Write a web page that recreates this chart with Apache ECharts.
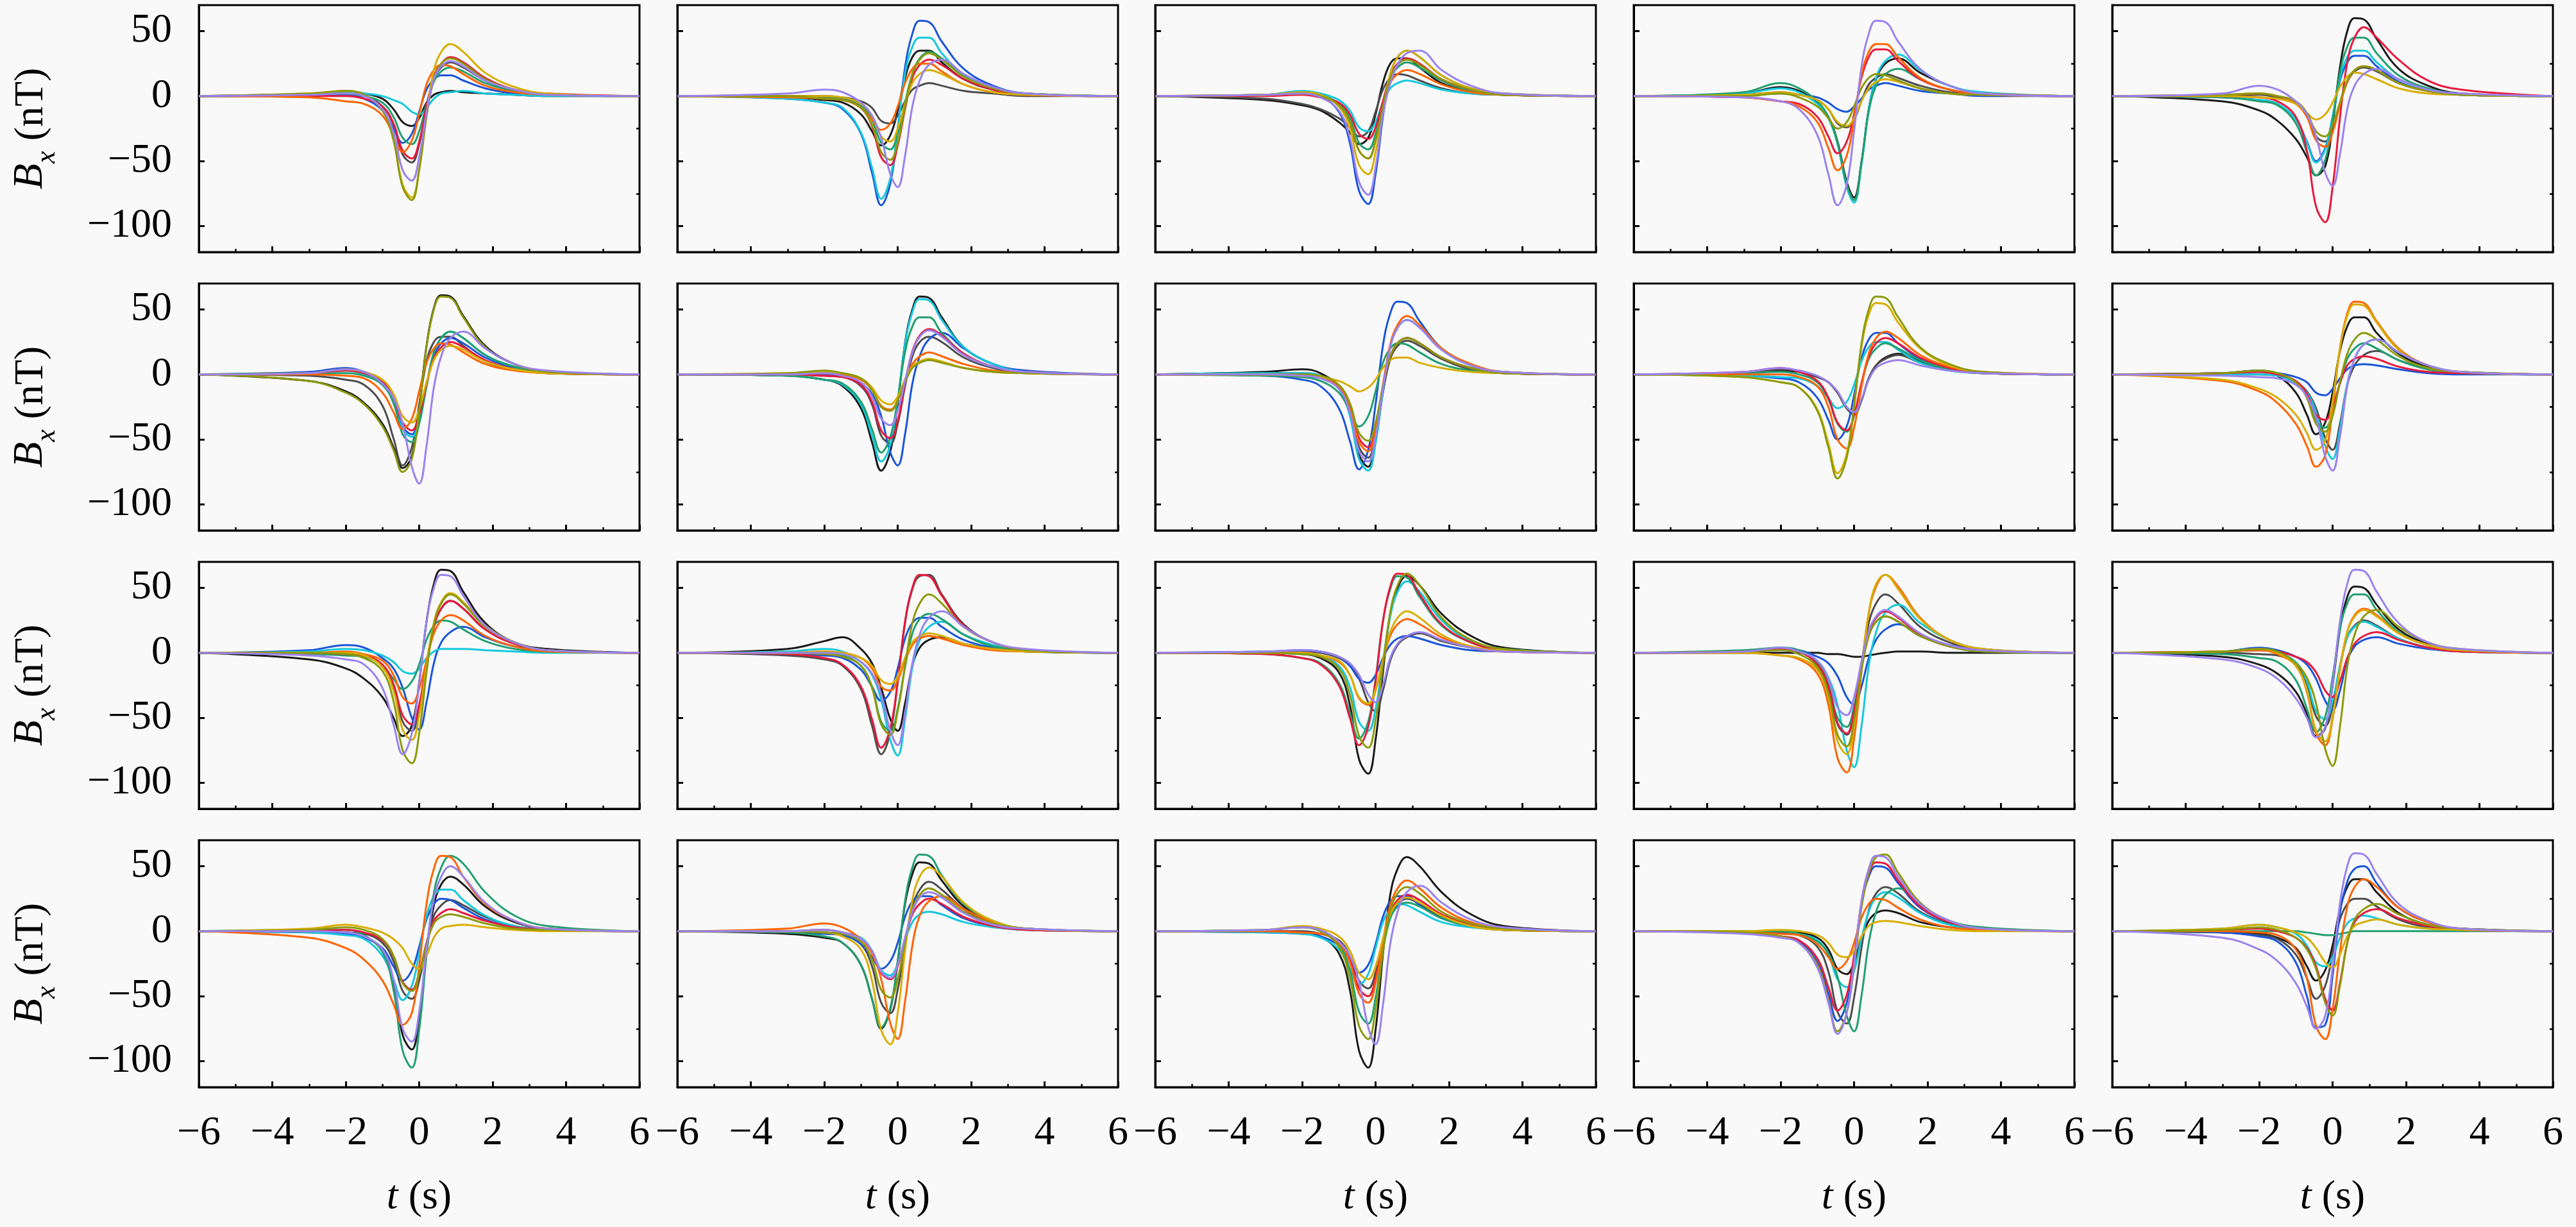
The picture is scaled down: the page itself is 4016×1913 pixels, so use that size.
<!DOCTYPE html>
<html>
<head>
<meta charset="utf-8">
<script src="https://cdn.jsdelivr.net/npm/echarts@6.0.0/dist/echarts.min.js"></script>
<style>
html,body{margin:0;padding:0;background:#f9f9f9;}
#main{width:4016px;height:1913px;}
</style>
</head>
<body>
<div id="main"></div>
<script>
// time samples (s) shared by every curve
var T = [-6,-3,-2,-1.5,-1,-0.7,-0.45,-0.2,0,0.2,0.4,0.6,0.85,1.2,1.8,2.6,3.5,6];

// curve colours, same order in every panel
var NAMES = ['black','gray','blue','cyan','green','red','orange','yellow','olive','purple'];
var COLORS = ['#1a1a1a','#4d4d4d','#1a55d9','#14c8dc','#20a070','#e8193c','#ff6400','#d9ae00','#8c9a0a','#9b82ee'];

// Bx (nT) per panel, row/col, one array per colour
var p11 = [
  [0,1,4,2,-2,-10,-20,-23,-17,-5,1,3,4,3,2,1,0,0],
  [0,1,1,0,-8,-22,-45,-51,-37,-9,13,22,26,22,12,4,1,0],
  [0,0,1,-2,-11,-25,-36,-29,-12,5,13,16,16,12,6,2,1,0],
  [0,1,3,2,0,-3,-6,-12,-14,-9,-2,2,3,4,2,1,0,0],
  [0,1,2,0,-5,-16,-32,-37,-27,-6,11,19,22,19,10,4,1,0],
  [0,0,0,-2,-8,-21,-42,-48,-35,-8,15,25,30,26,14,5,2,0],
  [0,-1,-4,-6,-15,-30,-43,-34,-14,9,20,24,23,17,8,3,1,0],
  [0,2,4,1,-11,-33,-68,-78,-56,-14,20,34,40,34,18,7,2,0],
  [0,2,4,1,-11,-34,-70,-80,-57,-16,13,25,29,25,13,5,1,0],
  [0,1,2,0,-10,-28,-57,-65,-47,-13,13,23,27,23,12,5,1,0]
];
var p12 = [
  [0,-1,-3,-5,-14,-27,-38,-30,-11,14,30,35,35,26,13,5,1,0],
  [0,0,0,-1,-4,-9,-19,-21,-15,-4,5,8,10,8,4,2,0,0],
  [0,-2,-5,-10,-29,-59,-84,-67,-26,22,48,58,57,42,21,8,2,0],
  [0,-2,-5,-9,-28,-55,-79,-63,-25,17,38,45,45,33,16,6,2,0],
  [0,0,-1,-2,-7,-18,-36,-41,-29,-5,17,29,34,29,15,6,2,0],
  [0,0,-2,-3,-9,-23,-47,-53,-38,-10,14,24,28,24,13,5,1,0],
  [0,-1,-2,-3,-9,-18,-26,-21,-8,10,21,25,25,19,9,3,1,0],
  [0,0,0,-1,-6,-15,-31,-35,-25,-6,10,17,20,17,9,3,1,0],
  [0,0,-2,-3,-9,-22,-43,-49,-36,-8,17,28,33,28,15,6,2,0],
  [0,2,5,3,-5,-15,-32,-60,-70,-46,-8,12,24,28,17,7,2,0]
];
var p13 = [
  [0,-3,-7,-11,-20,-28,-37,-32,-14,10,25,29,29,22,10,4,1,0],
  [0,-2,-6,-10,-17,-24,-31,-27,-12,5,14,17,16,12,6,2,1,0],
  [0,1,3,0,-12,-36,-73,-83,-60,-16,17,30,35,30,16,6,2,0],
  [0,1,4,2,-3,-11,-24,-27,-20,-5,6,10,12,10,5,2,1,0],
  [0,1,3,1,-6,-17,-36,-41,-29,-7,13,22,26,22,12,4,1,0],
  [0,0,1,-1,-5,-14,-29,-33,-24,-4,15,25,29,25,13,5,1,0],
  [0,1,2,0,-7,-20,-42,-48,-34,-9,10,17,20,17,9,3,1,0],
  [0,1,3,1,-8,-25,-53,-60,-43,-10,17,30,35,30,16,6,2,0],
  [0,1,2,0,-7,-20,-42,-48,-34,-8,14,24,28,24,13,5,1,0],
  [0,1,2,-1,-11,-32,-66,-76,-55,-14,10,24,33,35,20,8,2,0]
];
var p14 = [
  [0,2,7,4,-5,-16,-35,-66,-78,-51,-10,13,25,29,18,8,2,0],
  [0,1,3,1,-3,-10,-21,-24,-18,-4,9,14,17,14,8,3,1,0],
  [0,1,2,1,-1,-5,-10,-12,-8,-2,5,8,10,8,4,2,0,0],
  [0,2,6,3,-6,-17,-37,-70,-82,-53,-10,14,27,32,20,8,3,0],
  [0,3,10,6,-4,-16,-36,-68,-80,-52,-12,8,17,21,13,5,2,0],
  [0,-1,-4,-6,-16,-31,-44,-35,-14,14,30,36,36,27,13,5,1,0],
  [0,-1,-4,-8,-20,-40,-57,-46,-18,16,34,40,40,30,14,5,2,0],
  [0,1,3,1,-3,-10,-20,-23,-17,-4,6,11,13,11,6,2,1,0],
  [0,0,2,-1,-8,-17,-25,-20,-8,6,14,17,16,12,6,2,1,0],
  [0,-1,-4,-10,-30,-60,-84,-68,-27,22,48,58,57,42,21,8,2,0]
];
var p15 = [
  [0,-4,-11,-19,-33,-47,-61,-54,-22,22,50,60,59,44,21,8,2,0],
  [0,0,1,-1,-5,-15,-31,-35,-25,-6,11,19,22,19,10,4,1,0],
  [0,-1,-3,-6,-18,-35,-50,-40,-16,12,26,31,31,23,11,4,1,0],
  [0,-1,-3,-6,-18,-36,-51,-41,-16,14,30,35,35,26,13,5,1,0],
  [0,-1,-4,-7,-21,-43,-61,-49,-19,18,38,45,45,33,16,6,2,0],
  [0,0,-1,-4,-16,-42,-85,-97,-70,-17,26,45,53,45,28,12,5,0],
  [0,1,2,0,-6,-16,-34,-39,-28,-7,11,20,23,20,10,4,1,0],
  [0,0,-1,-2,-6,-13,-18,-14,-5,7,15,18,17,13,6,2,1,0],
  [0,1,2,0,-4,-13,-27,-31,-22,-5,12,20,23,20,10,4,1,0],
  [0,2,8,5,-4,-14,-31,-59,-69,-45,-10,8,17,21,13,5,2,0]
];
var p21 = [
  [0,-5,-13,-22,-38,-56,-72,-63,-26,22,51,61,60,45,22,8,2,0],
  [0,-1,-4,-8,-24,-49,-70,-56,-23,10,25,29,29,22,10,4,1,0],
  [0,2,5,2,-5,-19,-40,-46,-33,-8,14,24,28,24,13,5,1,0],
  [0,1,3,0,-7,-21,-42,-48,-35,-8,17,28,33,28,15,6,2,0],
  [0,1,1,-1,-8,-22,-46,-52,-38,-9,17,28,33,28,15,6,2,0],
  [0,1,3,1,-6,-18,-37,-43,-31,-7,12,21,25,21,11,4,1,0],
  [0,0,-1,-3,-14,-29,-42,-34,-13,9,20,24,23,17,8,3,1,0],
  [0,1,4,2,-4,-15,-32,-37,-27,-6,11,19,22,19,10,4,1,0],
  [0,-5,-14,-23,-40,-58,-75,-65,-28,21,50,60,59,44,21,8,2,0],
  [0,1,4,2,-7,-18,-38,-71,-84,-55,-10,14,28,33,20,8,3,0]
];
var p22 = [
  [0,-1,-4,-9,-26,-52,-74,-59,-23,24,50,60,59,44,21,8,2,0],
  [0,0,-1,-2,-9,-23,-47,-53,-38,-9,14,25,29,25,13,5,1,0],
  [0,0,0,-1,-7,-15,-32,-60,-70,-46,-7,14,27,32,20,8,3,0],
  [0,-1,-4,-8,-23,-47,-67,-54,-20,23,48,58,57,42,21,8,2,0],
  [0,-1,-4,-7,-21,-42,-60,-48,-19,17,37,44,44,32,16,6,2,0],
  [0,0,-1,-2,-8,-21,-43,-49,-36,-7,18,30,35,30,16,6,2,0],
  [0,0,1,0,-4,-12,-24,-27,-20,-4,8,14,17,14,8,3,1,0],
  [0,1,2,1,-3,-10,-20,-23,-17,-4,6,10,12,10,5,2,1,0],
  [0,1,3,1,-3,-12,-25,-28,-20,-6,5,9,11,9,5,2,1,0],
  [0,0,1,-1,-6,-17,-34,-39,-28,-5,17,29,34,29,15,6,2,0]
];
var p23 = [
  [0,2,4,1,-10,-30,-62,-71,-51,-14,13,24,28,24,13,5,1,0],
  [0,1,1,-1,-10,-27,-56,-64,-46,-13,12,22,26,22,12,4,1,0],
  [0,-1,-4,-9,-26,-51,-73,-58,-23,22,47,56,55,41,20,7,2,0],
  [0,1,1,-1,-11,-32,-65,-74,-53,-13,21,36,42,36,19,7,2,0],
  [0,-1,-2,-5,-14,-28,-40,-32,-13,9,20,24,23,17,8,3,1,0],
  [0,0,0,-2,-9,-24,-49,-56,-41,-10,14,24,28,24,13,5,1,0],
  [0,0,-1,-2,-10,-26,-52,-59,-43,-8,23,38,45,38,20,8,2,0],
  [0,0,-1,-2,-5,-9,-13,-10,-4,5,11,13,13,9,5,2,1,0],
  [0,0,0,-1,-8,-22,-45,-51,-37,-9,14,24,28,24,13,5,1,0],
  [0,0,-1,-3,-11,-29,-59,-67,-48,-11,21,36,42,36,19,7,2,0]
];
var p24 = [
  [0,1,3,2,-2,-6,-14,-26,-30,-20,-3,7,13,16,10,4,1,0],
  [0,1,4,3,-2,-6,-14,-26,-31,-20,-3,7,12,15,9,4,1,0],
  [0,-1,-3,-6,-18,-35,-50,-40,-16,12,27,32,32,24,12,4,1,0],
  [0,-1,-2,-3,-9,-18,-26,-21,-8,10,21,25,25,19,9,3,1,0],
  [0,1,2,0,-6,-19,-38,-44,-32,-8,12,20,24,20,11,4,1,0],
  [0,2,5,2,-5,-18,-37,-43,-31,-7,14,24,28,24,13,5,1,0],
  [0,0,0,-2,-9,-25,-50,-57,-41,-10,16,28,33,28,15,6,2,0],
  [0,-2,-6,-10,-27,-53,-76,-61,-24,21,46,55,54,40,20,7,2,0],
  [0,-2,-6,-10,-28,-56,-80,-64,-25,23,50,60,59,44,21,8,2,0],
  [0,2,5,3,-1,-6,-13,-25,-29,-19,-4,5,9,11,7,3,1,0]
];
var p25 = [
  [0,1,3,-1,-14,-31,-46,-37,-14,18,37,44,44,32,16,6,2,0],
  [0,0,0,-1,-6,-13,-26,-49,-58,-38,-8,7,15,18,11,4,1,0],
  [0,1,2,1,-2,-6,-14,-16,-11,-3,4,7,8,7,4,1,0,0],
  [0,0,0,-1,-7,-14,-29,-55,-65,-42,-7,12,23,27,17,7,2,0],
  [0,1,3,1,-6,-17,-36,-41,-29,-7,12,20,24,20,11,4,1,0],
  [0,1,2,0,-5,-15,-31,-35,-25,-7,7,12,14,12,6,2,1,0],
  [0,-5,-13,-22,-38,-55,-71,-62,-26,20,47,56,55,41,20,7,2,0],
  [0,-4,-11,-18,-31,-45,-58,-51,-21,20,45,54,53,40,19,7,2,0],
  [0,1,3,1,-6,-18,-38,-44,-32,-6,16,27,32,27,14,5,2,0],
  [0,-1,-2,-3,-8,-17,-33,-63,-74,-48,-9,12,23,27,17,7,2,0]
];
var p31 = [
  [0,-5,-12,-20,-34,-50,-64,-56,-23,24,53,64,63,47,23,8,3,0],
  [0,0,-1,-2,-10,-26,-53,-60,-43,-10,20,34,40,34,18,7,2,0],
  [0,2,6,4,-4,-12,-27,-50,-59,-38,-8,8,16,20,12,5,2,0],
  [0,1,3,2,-2,-7,-14,-16,-12,-4,1,3,3,3,2,1,0,0],
  [0,-1,-2,-3,-10,-20,-28,-22,-9,10,21,25,24,18,9,3,1,0],
  [0,0,-1,-2,-9,-24,-48,-55,-40,-8,20,34,40,34,18,7,2,0],
  [0,0,1,-1,-6,-17,-34,-39,-28,-6,15,25,29,25,13,5,1,0],
  [0,0,0,-2,-11,-29,-59,-67,-48,-10,23,39,46,39,21,8,2,0],
  [0,0,-1,-4,-14,-37,-75,-85,-62,-15,22,38,45,38,20,8,2,0],
  [0,-2,-5,-9,-27,-55,-78,-62,-24,24,50,60,59,44,21,8,2,0]
];
var p32 = [
  [0,3,9,12,3,-8,-27,-51,-60,-39,-10,4,10,12,7,3,1,0],
  [0,-2,-5,-10,-28,-56,-78,-61,-23,23,49,59,60,45,22,8,2,0],
  [0,-1,-2,-4,-13,-26,-37,-30,-12,11,23,27,27,20,10,4,1,0],
  [0,1,3,1,-7,-17,-36,-67,-79,-51,-11,10,20,24,14,6,2,0],
  [0,0,0,-2,-10,-26,-53,-60,-43,-11,15,26,30,26,14,5,2,0],
  [0,-1,-4,-9,-26,-51,-73,-58,-22,24,50,60,59,44,21,8,2,0],
  [0,0,1,0,-4,-12,-26,-29,-21,-6,6,11,13,11,6,2,1,0],
  [0,0,1,0,-4,-10,-21,-24,-18,-4,8,13,15,13,7,3,1,0],
  [0,0,-1,-3,-10,-27,-55,-63,-45,-10,23,38,45,38,20,8,2,0],
  [0,0,0,-1,-7,-16,-32,-60,-71,-46,-8,14,27,32,20,8,3,0]
];
var p33 = [
  [0,0,-1,-4,-15,-40,-82,-93,-67,-15,30,50,59,52,30,13,4,0],
  [0,0,1,0,-4,-10,-20,-38,-45,-29,-6,6,12,15,9,4,1,0],
  [0,1,2,1,-3,-10,-20,-23,-17,-4,6,11,13,11,6,2,1,0],
  [0,0,-1,-2,-10,-26,-53,-60,-43,-7,28,47,55,47,25,9,3,0],
  [0,-1,-4,-8,-23,-46,-66,-53,-20,24,49,59,58,43,21,8,2,0],
  [0,-1,-4,-9,-25,-50,-71,-57,-22,24,51,61,60,45,22,8,2,0],
  [0,0,0,-2,-7,-17,-35,-40,-29,-6,13,22,26,22,12,4,1,0],
  [0,0,0,-2,-6,-17,-34,-39,-28,-5,16,27,32,27,14,5,2,0],
  [0,0,-1,-3,-12,-32,-64,-73,-52,-10,31,52,61,52,27,10,3,0],
  [0,1,2,1,-3,-8,-17,-32,-38,-25,-4,7,13,16,10,4,1,0]
];
var p34 = [
  [0,0,0,0,0,-1,-1,-2,-3,-3,-2,-1,0,1,1,0,0,0],
  [0,1,3,1,-9,-27,-55,-63,-45,-10,23,38,45,38,20,8,2,0],
  [0,1,3,2,-3,-8,-18,-34,-40,-26,-4,10,18,22,13,6,2,0],
  [0,1,4,1,-7,-19,-40,-75,-88,-57,-10,16,31,37,23,10,3,0],
  [0,2,4,2,-7,-24,-50,-57,-41,-11,14,24,28,24,13,5,1,0],
  [0,1,3,1,-9,-26,-54,-62,-45,-11,16,27,32,27,14,5,2,0],
  [0,0,-2,-5,-16,-40,-81,-92,-66,-15,30,51,60,51,27,10,3,0],
  [0,0,-2,-4,-13,-34,-68,-78,-56,-11,31,53,60,49,26,10,3,0],
  [0,1,2,-1,-11,-31,-63,-72,-52,-14,13,24,28,24,13,5,1,0],
  [0,1,4,1,-6,-20,-42,-48,-34,-7,17,28,33,28,15,6,2,0]
];
var p35 = [
  [0,-3,-9,-16,-30,-47,-64,-58,-25,18,43,51,50,37,18,7,2,0],
  [0,0,-1,-2,-9,-24,-49,-56,-41,-11,12,21,25,21,11,4,1,0],
  [0,1,4,2,-3,-9,-20,-37,-44,-29,-6,5,10,12,7,3,1,0],
  [0,1,2,0,-7,-22,-45,-51,-37,-10,12,20,24,20,11,4,1,0],
  [0,-1,-4,-7,-21,-43,-61,-49,-19,18,38,45,45,33,16,6,2,0],
  [0,1,2,1,-3,-7,-15,-29,-34,-22,-4,7,13,16,10,4,1,0],
  [0,1,2,-1,-10,-30,-62,-71,-51,-13,16,29,34,29,15,6,2,0],
  [0,1,3,0,-10,-29,-60,-68,-49,-13,16,28,33,28,15,6,2,0],
  [0,1,3,1,-8,-19,-39,-74,-87,-57,-11,14,28,33,20,8,3,0],
  [0,-5,-12,-20,-35,-50,-65,-57,-24,24,53,64,63,47,23,8,3,0]
];
var p41 = [
  [0,0,-1,-4,-15,-39,-80,-91,-66,-17,20,36,42,36,19,7,2,0],
  [0,0,-1,-2,-9,-23,-46,-52,-38,-10,12,20,24,20,11,4,1,0],
  [0,-1,-2,-5,-13,-27,-38,-30,-12,9,21,25,24,18,9,3,1,0],
  [0,-1,-3,-6,-19,-37,-53,-42,-17,12,27,32,32,24,12,4,1,0],
  [0,1,1,-3,-16,-45,-92,-105,-76,-18,29,49,58,52,30,12,4,0],
  [0,0,1,-1,-7,-19,-39,-45,-32,-9,8,14,17,14,8,3,1,0],
  [0,-5,-13,-22,-38,-56,-72,-63,-27,21,48,58,57,42,21,8,2,0],
  [0,2,5,3,-1,-6,-13,-25,-29,-19,-5,2,4,5,3,1,0,0],
  [0,1,3,1,-6,-19,-40,-46,-33,-10,6,11,13,11,6,2,1,0],
  [0,0,-1,-4,-14,-37,-75,-85,-62,-14,25,42,50,42,22,8,2,0]
];
var p42 = [
  [0,-2,-5,-9,-26,-52,-75,-60,-24,21,44,53,52,39,19,7,2,0],
  [0,0,-1,-3,-10,-27,-55,-63,-45,-11,19,32,38,32,17,6,2,0],
  [0,-1,-2,-3,-10,-20,-29,-23,-9,11,23,27,27,20,10,4,1,0],
  [0,0,1,-1,-5,-15,-30,-34,-25,-7,7,13,15,13,7,3,1,0],
  [0,-1,-4,-9,-26,-52,-74,-59,-23,23,49,59,58,43,21,8,2,0],
  [0,0,1,-1,-6,-16,-32,-37,-27,-6,13,21,25,21,11,4,1,0],
  [0,2,6,3,-6,-17,-37,-71,-83,-54,-11,12,23,27,17,7,2,0],
  [0,0,-1,-4,-14,-38,-76,-87,-63,-15,24,42,49,42,22,8,2,0],
  [0,0,-1,-2,-8,-22,-45,-51,-37,-8,17,28,33,28,15,6,2,0],
  [0,0,1,-1,-6,-15,-31,-36,-26,-5,15,26,30,26,14,5,2,0]
];
var p43 = [
  [0,0,-1,-4,-17,-45,-92,-105,-76,-18,28,48,57,50,30,13,4,0],
  [0,0,0,-2,-7,-19,-38,-44,-32,-8,12,21,25,21,11,4,1,0],
  [0,-1,-2,-4,-11,-22,-32,-26,-10,11,23,27,27,20,10,4,1,0],
  [0,-1,-2,-5,-14,-29,-41,-33,-13,7,17,21,20,15,7,3,1,0],
  [0,1,3,0,-10,-30,-62,-71,-51,-15,10,19,22,19,10,4,1,0],
  [0,0,-1,-2,-8,-22,-44,-50,-36,-9,14,24,28,24,13,5,1,0],
  [0,0,-1,-2,-9,-24,-48,-55,-40,-8,20,33,39,33,18,7,2,0],
  [0,1,4,2,-4,-15,-32,-37,-27,-6,13,22,26,22,12,4,1,0],
  [0,1,3,0,-12,-36,-73,-83,-60,-16,16,29,34,29,15,6,2,0],
  [0,1,3,1,-8,-19,-39,-74,-87,-57,-10,15,30,35,22,9,3,0]
];
var p44 = [
  [0,0,0,-1,-5,-14,-29,-33,-24,-6,8,14,16,14,7,3,1,0],
  [0,0,-1,-3,-12,-31,-62,-71,-51,-13,16,29,34,29,15,6,2,0],
  [0,-1,-4,-8,-24,-48,-69,-55,-22,20,42,50,49,37,18,7,2,0],
  [0,0,0,-2,-7,-18,-37,-43,-31,-6,15,26,30,26,14,5,2,0],
  [0,0,0,-2,-8,-17,-35,-65,-77,-50,-9,15,28,33,20,8,3,0],
  [0,-1,-4,-7,-21,-43,-61,-49,-19,21,44,53,52,39,19,7,2,0],
  [0,-1,-2,-3,-10,-20,-29,-23,-9,10,21,25,24,18,9,3,1,0],
  [0,0,1,0,-3,-9,-18,-20,-15,-4,4,7,8,7,4,1,0,0],
  [0,-1,-4,-9,-26,-53,-77,-63,-27,18,45,57,59,45,22,8,2,0],
  [0,-2,-5,-9,-28,-55,-79,-63,-25,23,48,58,57,42,21,8,2,0]
];
var p45 = [
  [0,-1,-2,-5,-13,-27,-38,-30,-11,17,34,40,40,30,14,5,2,0],
  [0,-1,-3,-6,-18,-36,-52,-42,-17,9,21,25,25,19,9,3,1,0],
  [0,-1,-4,-8,-24,-50,-74,-72,-34,14,38,48,50,37,18,7,2,0],
  [0,2,5,3,-2,-11,-24,-27,-20,-5,6,10,12,10,5,2,1,0],
  [0,0,0,0,0,-1,-2,-3,-3,-2,-1,0,0,0,0,0,0,0],
  [0,1,2,0,-5,-13,-27,-52,-61,-40,-9,7,14,17,10,4,1,0],
  [0,0,-1,-3,-14,-36,-73,-83,-60,-16,19,34,40,34,18,7,2,0],
  [0,2,5,3,-1,-5,-13,-24,-28,-18,-4,4,7,9,5,2,1,0],
  [0,1,3,1,-5,-14,-29,-55,-65,-42,-9,9,17,21,13,5,2,0],
  [0,-5,-14,-23,-40,-58,-75,-65,-28,21,50,60,59,44,21,8,2,0]
];

// tick positions
var Y_MAJOR = [-100,-50,0,50];
var Y_MINOR = [-75,-25,25];

var PANELS = [
  [p11,p12,p13,p14,p15],
  [p21,p22,p23,p24,p25],
  [p31,p32,p33,p34,p35],
  [p41,p42,p43,p44,p45]
];

var COL_LEFT = [310,1056,1801,2547,3293];
var ROW_TOP = [8,442,876,1310];
var W = 687, H = 385;
var FONT = 'Liberation Serif';
var BG = '#f9f9f9';

function minus(v) {
    return v < 0 ? '\u2212' + (-v) : String(v);
}

var grids = [], xAxes = [], yAxes = [], series = [];

PANELS.forEach(function (row, r) {
    row.forEach(function (panel, c) {
        var k = grids.length;
        var lastRow = r === PANELS.length - 1;
        var firstCol = c === 0;

        grids.push({
            left: COL_LEFT[c], top: ROW_TOP[r], width: W, height: H,
            show: true, backgroundColor: BG, borderColor: '#000', borderWidth: 3
        });

        xAxes.push({
            gridIndex: k, type: 'value', min: -6, max: 6, interval: 2,
            axisLine: {show: true, onZero: false, lineStyle: {color: '#000', width: 3}},
            axisTick: {show: true, inside: true, length: 9, lineStyle: {color: '#000', width: 3}},
            minorTick: {show: true, splitNumber: 2, length: 5, lineStyle: {color: '#000', width: 2.5}},
            splitLine: {show: false},
            axisLabel: {
                show: lastRow, margin: 40, color: '#000', fontFamily: FONT, fontSize: 64,
                showMinLabel: true, showMaxLabel: true, formatter: minus
            },
            name: lastRow ? '{i|t} (s)' : '',
            nameLocation: 'middle', nameGap: 140,
            nameTextStyle: {
                color: '#000', fontFamily: FONT, fontSize: 64,
                rich: {i: {fontStyle: 'italic', fontFamily: FONT, fontSize: 64, color: '#000'}}
            }
        });

        // main y axis with labelled ticks
        yAxes.push({
            gridIndex: k, type: 'value', min: -120, max: 70,
            axisLine: {show: true, onZero: false, lineStyle: {color: '#000', width: 3}},
            axisTick: {show: true, inside: true, length: 9, customValues: Y_MAJOR, lineStyle: {color: '#000', width: 3}},
            splitLine: {show: false},
            axisLabel: {
                show: firstCol, customValues: Y_MAJOR, margin: 42, color: '#000',
                fontFamily: FONT, fontSize: 64, formatter: minus
            },
            name: firstCol ? '{i|B}{s|x}{n| (nT)}' : '',
            nameLocation: 'middle', nameGap: 215, nameRotate: 90,
            nameTextStyle: {
                color: '#000', fontFamily: FONT, fontSize: 64,
                rich: {
                    i: {fontStyle: 'italic', fontFamily: FONT, fontSize: 66, color: '#000', verticalAlign: 'bottom', padding: [0, 0, 14, 0]},
                    s: {fontStyle: 'italic', fontFamily: FONT, fontSize: 44, color: '#000', verticalAlign: 'bottom'},
                    n: {fontFamily: FONT, fontSize: 64, color: '#000', verticalAlign: 'bottom', padding: [0, 0, 14, 0]}
                }
            }
        });
        // second y axis only for the short minor ticks
        yAxes.push({
            gridIndex: k, type: 'value', min: -120, max: 70,
            axisLine: {show: false, onZero: false},
            axisTick: {show: true, inside: true, length: 5, customValues: Y_MINOR, lineStyle: {color: '#000', width: 2.5}},
            axisLabel: {show: false},
            splitLine: {show: false}
        });

        panel.forEach(function (vals, j) {
            series.push({
                name: NAMES[j],
                type: 'line',
                xAxisIndex: k,
                yAxisIndex: 2 * k,
                data: T.map(function (t, i) { return [t, vals[i]]; }),
                smooth: 0.4,
                symbol: 'none',
                silent: true,
                lineStyle: {color: COLORS[j], width: 3},
                itemStyle: {color: COLORS[j]}
            });
        });
    });
});

var chart = echarts.init(document.getElementById('main'));
chart.setOption({
    backgroundColor: BG,
    animation: false,
    grid: grids,
    xAxis: xAxes,
    yAxis: yAxes,
    series: series
});
</script>
</body>
</html>
